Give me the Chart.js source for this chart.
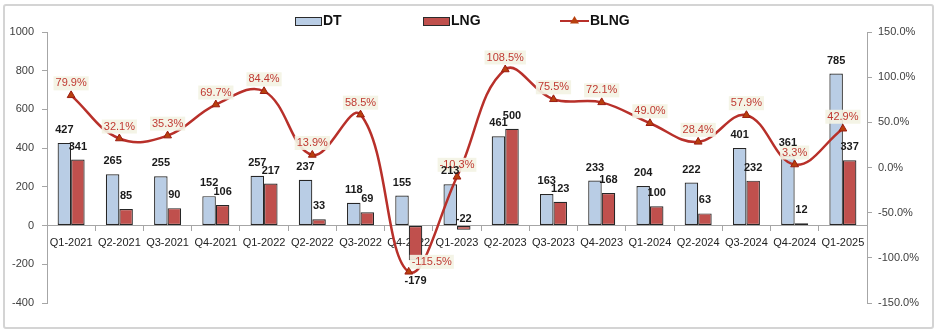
<!DOCTYPE html>
<html>
<head>
<meta charset="utf-8">
<script src="https://cdn.jsdelivr.net/npm/chart.js@4.4.1/dist/chart.umd.min.js"></script>
<style>
  html, body { margin: 0; padding: 0; background: #ffffff; }
  #wrap { position: relative; width: 938px; height: 333px; }
  #frame { position: absolute; left: 3px; top: 4px; width: 927px; height: 321px;
           border: 2px solid #d4d4d4; border-radius: 3px; pointer-events: none; }
  canvas { position: absolute; left: 0; top: 0; }
</style>
</head>
<body>
<div id="wrap">
  <canvas id="c" width="938" height="333"></canvas>
  <div id="frame"></div>
</div>
<script>
const categories = ['Q1-2021','Q2-2021','Q3-2021','Q4-2021','Q1-2022','Q2-2022','Q3-2022','Q4-2022','Q1-2023','Q2-2023','Q3-2023','Q4-2023','Q1-2024','Q2-2024','Q3-2024','Q4-2024','Q1-2025'];
const dtValues   = [427, 265, 255, 152, 257, 237, 118, 155, 213, 461, 163, 233, 204, 222, 401, 361, 785];
const lngValues  = [341, 85, 90, 106, 217, 33, 69, -179, -22, 500, 123, 168, 100, 63, 232, 12, 337];
const blngValues = [79.9, 32.1, 35.3, 69.7, 84.4, 13.9, 58.5, -115.5, -10.3, 108.5, 75.5, 72.1, 49.0, 28.4, 57.9, 3.3, 42.9];
const leftTicks  = [-400, -200, 0, 200, 400, 600, 800, 1000];
const rightTicks = [-150, -100, -50, 0, 50, 100, 150];

const FONT = "'Liberation Sans', Arial, sans-serif";
const C_DT = '#b9cde5', C_LNG = '#c0504d', C_LINE = '#b8302a', C_PCT = '#c03a33';

const labelsPlugin = {
  id: 'valueLabels',
  afterDatasetsDraw(chart) {
    const ctx = chart.ctx;
    ctx.save();
    chart.data.datasets.forEach((ds, di) => {
      const meta = chart.getDatasetMeta(di);
      if (ds.type === 'line') {
        ctx.font = '11px ' + FONT;
        meta.data.forEach((pt, i) => {
          const v = ds.data[i];
          const txt = v.toFixed(1) + '%';
          const w = ctx.measureText(txt).width;
          let cx = pt.x, cy = pt.y - 12;
          if (v < -50) { cx = pt.x + 23; cy = pt.y - 10; }
          ctx.fillStyle = 'rgba(243,243,228,0.92)';
          ctx.fillRect(cx - w / 2 - 2, cy - 7, w + 4, 14);
          ctx.fillStyle = C_PCT;
          ctx.textAlign = 'center';
          ctx.textBaseline = 'middle';
          ctx.fillText(txt, cx, cy);
        });
      } else {
        ctx.font = 'bold 11px ' + FONT;
        ctx.fillStyle = '#1a1a1a';
        ctx.textAlign = 'center';
        ctx.textBaseline = 'middle';
        meta.data.forEach((bar, i) => {
          const v = ds.data[i];
          let y;
          if (v >= 0) { y = bar.y - 13; }
          else if (Math.abs(bar.y - bar.base) < 20) { y = bar.base - 7; }
          else { y = bar.y + 21; }
          ctx.fillText(String(v), bar.x, y);
        });
      }
    });
    ctx.restore();
  }
};

const legendPlugin = {
  id: 'customLegend',
  afterDraw(chart) {
    const ctx = chart.ctx;
    const ds = chart.data.datasets;
    ctx.save();
    ctx.font = 'bold 14px ' + FONT;
    ctx.textBaseline = 'middle';
    ctx.textAlign = 'left';
    const y = 21;
    const dt = ds.find(d => d.label === 'DT');
    ctx.fillStyle = dt.backgroundColor; ctx.fillRect(295.5, 17.5, 26, 8);
    ctx.strokeStyle = '#2b2b2b'; ctx.lineWidth = 1; ctx.strokeRect(295.5, 17.5, 26, 8);
    ctx.fillStyle = '#111'; ctx.fillText(dt.label, 323, y);
    const lng = ds.find(d => d.label === 'LNG');
    ctx.fillStyle = lng.backgroundColor; ctx.fillRect(423.5, 17.5, 26, 8);
    ctx.strokeStyle = '#2b2b2b'; ctx.strokeRect(423.5, 17.5, 26, 8);
    ctx.fillStyle = '#111'; ctx.fillText(lng.label, 451, y);
    const bl = ds.find(d => d.label === 'BLNG');
    ctx.strokeStyle = bl.borderColor; ctx.lineWidth = 2;
    ctx.beginPath(); ctx.moveTo(560, 21); ctx.lineTo(589, 21); ctx.stroke();
    ctx.fillStyle = bl.pointBackgroundColor;
    ctx.beginPath(); ctx.moveTo(574.5, 16); ctx.lineTo(579, 23.5); ctx.lineTo(570, 23.5); ctx.closePath(); ctx.fill();
    ctx.fillStyle = '#111'; ctx.fillText(bl.label, 590, y);
    ctx.restore();
  }
};

new Chart(document.getElementById('c'), {
  data: {
    labels: categories,
    datasets: [
      {
        type: 'line', label: 'BLNG', data: blngValues, yAxisID: 'y1', order: 0,
        borderColor: C_LINE, borderWidth: 2.5, tension: 0.4,
        pointStyle: 'triangle', pointRadius: 4.5,
        pointBackgroundColor: '#b8400e', pointBorderColor: '#9c1c12', pointBorderWidth: 1
      },
      {
        type: 'bar', label: 'DT', data: dtValues, yAxisID: 'y', order: 1,
        backgroundColor: C_DT, borderColor: '#262626', borderWidth: 1.2, borderSkipped: false,
        categoryPercentage: 0.56, barPercentage: 1.0
      },
      {
        type: 'bar', label: 'LNG', data: lngValues, yAxisID: 'y', order: 1,
        backgroundColor: C_LNG, borderColor: '#262626', borderWidth: 1.2, borderSkipped: false,
        categoryPercentage: 0.56, barPercentage: 1.0
      }
    ]
  },
  options: {
    responsive: false,
    animation: false,
    devicePixelRatio: 1,
    layout: { padding: { top: 32, bottom: 30, left: 0, right: 0 } },
    plugins: { legend: { display: false }, tooltip: { enabled: false } },
    scales: {
      x: {
        position: { y: 0 },
        grid: { display: true, drawOnChartArea: false, offset: true, tickLength: 5, color: '#a6a6a6' },
        border: { color: '#a6a6a6', width: 1 },
        ticks: { color: '#222', font: { family: FONT, size: 11 }, padding: 6, maxRotation: 0, autoSkip: false },
        afterFit(s) { s.height = 0; }
      },
      y: {
        position: 'left', min: -400, max: 1000,
        afterBuildTicks(s) { s.ticks = leftTicks.map(v => ({ value: v })); },
        grid: { drawOnChartArea: false, tickLength: 5, color: '#a6a6a6' },
        border: { color: '#a6a6a6', width: 1 },
        ticks: { color: '#404040', font: { family: FONT, size: 11 }, padding: 8, callback: v => String(v) },
        afterFit(s) { s.width = 47; }
      },
      y1: {
        position: 'right', min: -150, max: 150,
        afterBuildTicks(s) { s.ticks = rightTicks.map(v => ({ value: v })); },
        grid: { drawOnChartArea: false, tickLength: 5, color: '#a6a6a6' },
        border: { color: '#a6a6a6', width: 1 },
        ticks: { color: '#404040', font: { family: FONT, size: 11 }, padding: 6,
                 callback: v => v.toFixed(1) + '%' },
        afterFit(s) { s.width = 71; }
      }
    }
  },
  plugins: [labelsPlugin, legendPlugin]
});
</script>
</body>
</html>
